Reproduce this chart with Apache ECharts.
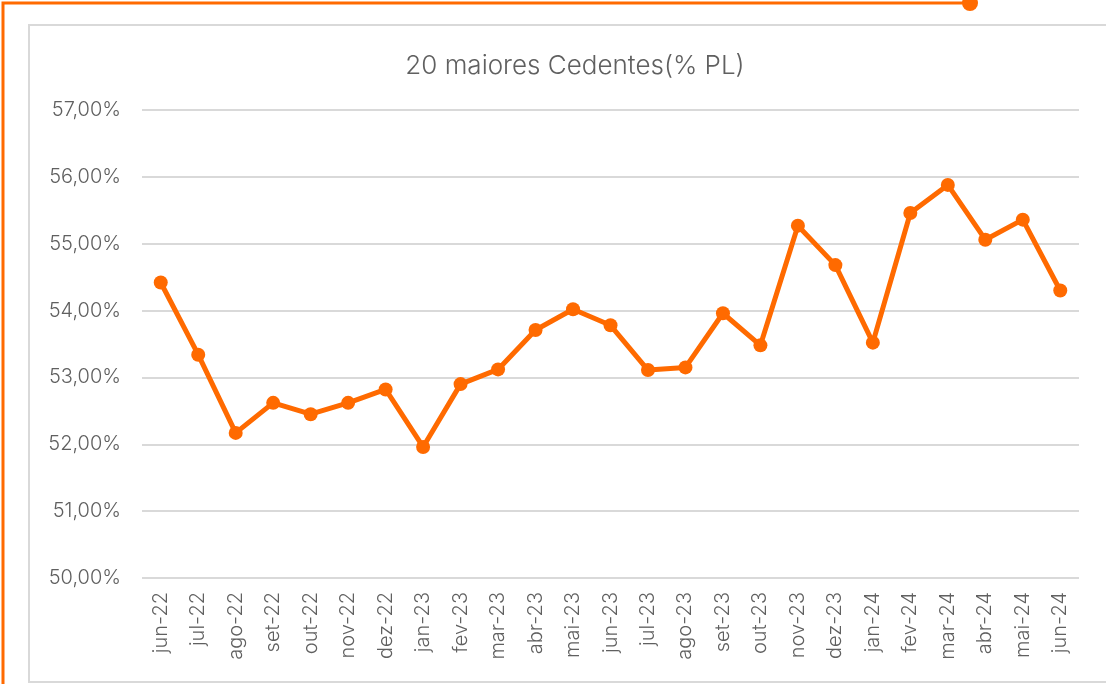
<!DOCTYPE html>
<html>
<head>
<meta charset="utf-8">
<script src="https://cdn.jsdelivr.net/npm/echarts@6/dist/echarts.min.js"></script>
<style>
  html, body { margin: 0; padding: 0; background: #fff; }
  #main { width: 1106px; height: 684px; }
</style>
</head>
<body>
<div id="main"></div>
<script>
// meses (jun-22 .. jun-24)
var meses = ['jun-22', 'jul-22', 'ago-22', 'set-22', 'out-22', 'nov-22', 'dez-22',
    'jan-23', 'fev-23', 'mar-23', 'abr-23', 'mai-23', 'jun-23', 'jul-23', 'ago-23',
    'set-23', 'out-23', 'nov-23', 'dez-23', 'jan-24', 'fev-24', 'mar-24', 'abr-24',
    'mai-24', 'jun-24'];

// concentração dos 20 maiores cedentes, % do PL
var cedentes = [54.42, 53.34, 52.17, 52.62, 52.45, 52.62, 52.82,
    51.96, 52.90, 53.12, 53.71, 54.02, 53.78, 53.11, 53.15,
    53.96, 53.48, 55.27, 54.68, 53.52, 55.46, 55.88, 55.06,
    55.36, 54.30];

var laranja = '#ff6a00';
var cinza = '#606060';

var chart = echarts.init(document.getElementById('main'));

chart.setOption({
    backgroundColor: '#fff',
    animation: false,
    textStyle: {fontFamily: 'Inter'},
    title: {
        text: '20 maiores Cedentes(% PL)',
        left: 570,
        top: 48,
        textAlign: 'center',
        textStyle: {fontSize: 26, fontWeight: 300, color: cinza, fontFamily: 'Inter'}
    },
    graphic: [
        // moldura cinza do gráfico
        {type: 'rect', shape: {x: 29, y: 25, width: 1090, height: 657},
            style: {fill: 'none', stroke: '#d9d9d9', lineWidth: 2}, z: 0},
        // moldura laranja
        {type: 'polyline', shape: {points: [[3, 690], [3, 3], [970, 3]]},
            style: {fill: 'none', stroke: laranja, lineWidth: 3}, z: 1},
        {type: 'circle', shape: {cx: 970, cy: 3, r: 8},
            style: {fill: laranja}, z: 1}
    ],
    grid: {left: 142, right: 27, top: 110, bottom: 106},
    xAxis: {
        type: 'category',
        data: meses,
        boundaryGap: true,
        axisLine: {show: false},
        axisTick: {show: false},
        axisLabel: {rotate: 90, margin: 14, fontSize: 20, fontWeight: 300, color: cinza, interval: 0}
    },
    yAxis: {
        type: 'value',
        min: 50,
        max: 57,
        interval: 1,
        axisLine: {show: false},
        axisTick: {show: false},
        splitLine: {lineStyle: {color: '#d9d9d9', width: 2}},
        axisLabel: {
            margin: 21, fontSize: 20, fontWeight: 300, color: cinza,
            formatter: function (v) { return v.toFixed(2).replace('.', ',') + '%'; }
        }
    },
    series: [{
        type: 'line',
        data: cedentes,
        symbol: 'circle',
        symbolSize: 14,
        lineStyle: {color: laranja, width: 5},
        itemStyle: {color: laranja}
    }]
});
</script>
</body>
</html>
